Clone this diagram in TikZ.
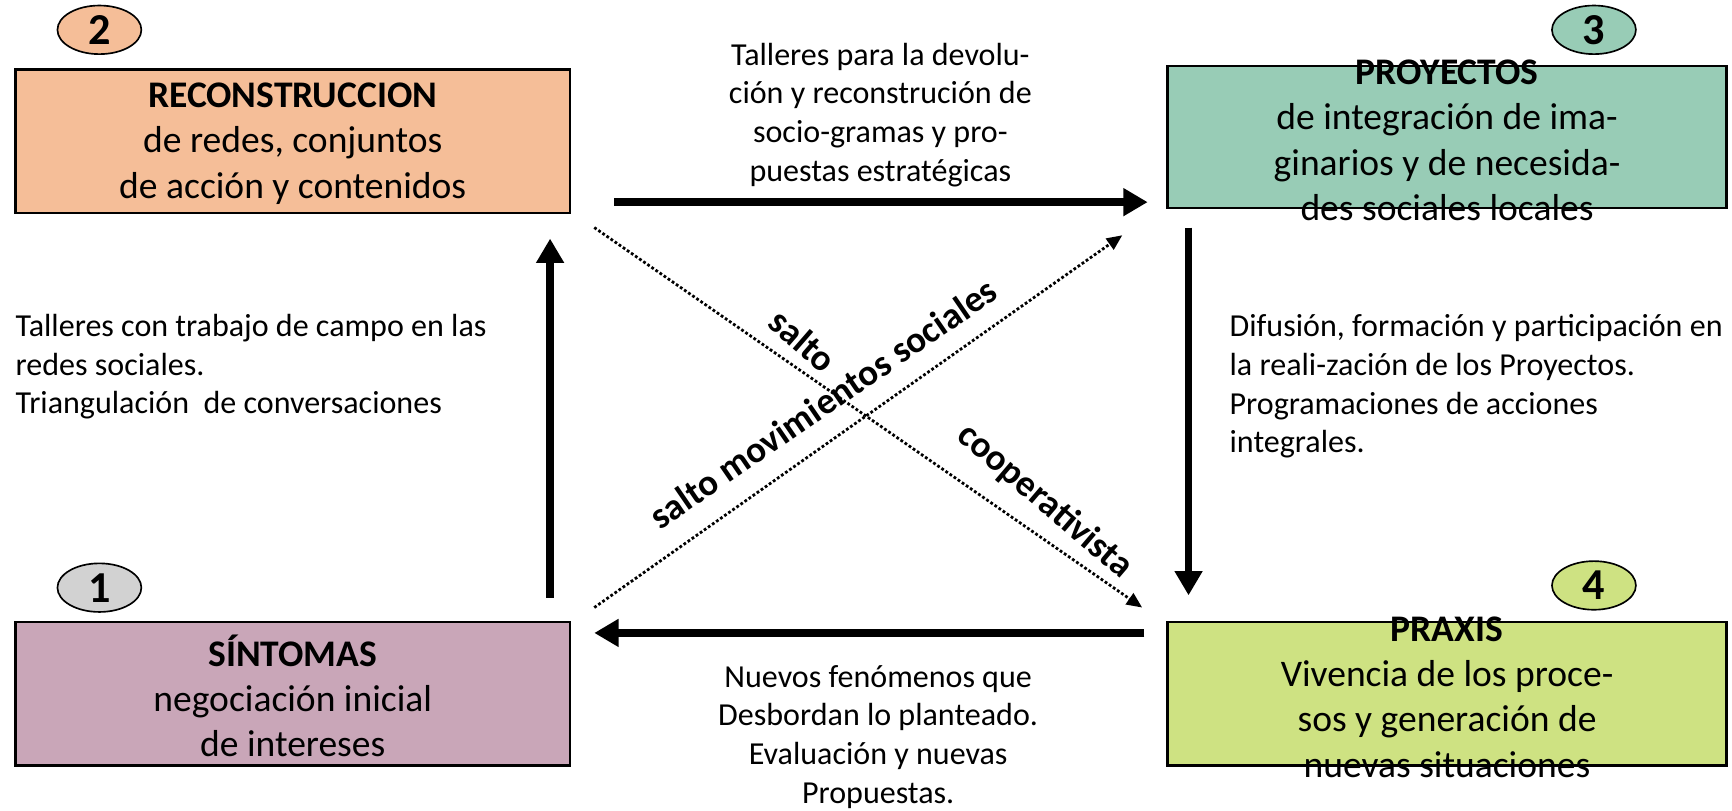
\documentclass[tikz,border=0pt]{standalone}
\usepackage{fontspec}
\setmainfont{Carlito}
\usetikzlibrary{arrows.meta,shapes.geometric}
\definecolor{peach}{RGB}{245,190,152}
\definecolor{mint}{RGB}{152,204,182}
\definecolor{mauve}{RGB}{201,166,184}
\definecolor{lime}{RGB}{206,226,130}
\definecolor{lgray}{RGB}{210,210,210}
\begin{document}
\begin{tikzpicture}[x=1pt,y=-1pt,
  box/.style={draw=black, line width=2pt, inner sep=0pt, minimum width=502pt, minimum height=130pt},
  numell/.style={draw=black, ellipse, line width=1.5pt, minimum width=76pt, minimum height=44pt, inner sep=0pt, font=\fontsize{40}{40}\selectfont\bfseries},
  boxtext/.style={align=center, inner sep=0pt, font=\fontsize{34}{41}\selectfont},
  labeltext/.style={inner sep=0pt, font=\fontsize{29}{35}\selectfont},
  diagtext/.style={inner sep=0pt, font=\fontsize{33.5}{33.5}\selectfont\bfseries},
  bigarrow/.style={line width=7pt, -{Triangle[length=22pt,width=24pt]}},
  dotarrow/.style={line width=2.5pt, dotted, -{Triangle[length=14pt,width=12pt]}}
]
\useasboundingbox (0,0) rectangle (1568,734);

% boxes
\node[box, fill=peach] (b2) at (265,128) {};
\node[box, fill=mint, minimum width=506pt, minimum height=128pt] (b3) at (1310,124) {};
\node[box, fill=mauve] (b1) at (265,628) {};
\node[box, fill=lime, minimum width=506pt] (b4) at (1310,628) {};

% number ellipses
\node[numell, fill=peach] (e2) at (90,27) {2};
\node[numell, fill=mint] (e3) at (1443,27) {3};
\node[numell, fill=lgray] (e1) at (90,532) {1};
\node[numell, fill=lime] (e4) at (1443,530) {4};

% box texts
\node[boxtext] (t2) at (265,130) {\textbf{RECONSTRUCCION}\\de redes, conjuntos\\de acción y contenidos};
\node[boxtext] (t3) at (1310,127) {\textbf{PROYECTOS}\\de integración de ima-\\ginarios y de necesida-\\des sociales locales};
\node[boxtext] (t1) at (265,630) {\textbf{SÍNTOMAS}\\negociación inicial\\de intereses};
\node[boxtext] (t4) at (1310,631) {\textbf{PRAXIS}\\Vivencia de los proce-\\sos y generación de\\nuevas situaciones};

% main arrows
\draw[bigarrow] ([shift={(39,55)}]b2.east) -- ([shift={(-17,59)}]b3.west);
\draw[bigarrow] ([shift={(20,17)}]b3.south west) -- ([shift={(20,-23)}]b4.north west);
\draw[bigarrow] ([shift={(-20,-55)}]b4.west) -- ([shift={(21,-55)}]b1.east);
\draw[bigarrow] ([shift={(-19,-21)}]b1.north east) -- ([shift={(-19,22)}]b2.south east);

% dotted diagonals
\draw[dotarrow] ([shift={(21,12)}]b2.south east) -- ([shift={(-22,-12)}]b4.north west);
\draw[dotarrow] ([shift={(21,-12)}]b1.north east) -- ([shift={(-40,24)}]b3.south west);

% labels
\node[labeltext, align=center] (ltop) at (797,104) {Talleres para la devolu-\\ción y reconstrución de\\socio-gramas y pro-\\puestas estratégicas};
\node[labeltext, align=left, anchor=west] (lleft) at (14,332) {Talleres con trabajo de campo en las\\redes sociales.\\Triangulación\ \ de conversaciones};
\node[labeltext, align=left, anchor=west] (lright) at (1113,350) {Difusión, formación y participación en\\la reali-zación de los Proyectos.\\Programaciones de acciones\\integrales.};
\node[labeltext, align=center] (lbot) at (795,667) {Nuevos fenómenos que\\Desbordan lo planteado.\\Evaluación y nuevas\\Propuestas.};

% diagonal texts
\node[diagtext, rotate=-41] (d1) at (727,308) {salto};
\node[diagtext, rotate=34.5] (d2) at (745,365) {salto movimientos sociales};
\node[diagtext, rotate=-40.5] (d3) at (946,454) {cooperativista};
\end{tikzpicture}
\end{document}
